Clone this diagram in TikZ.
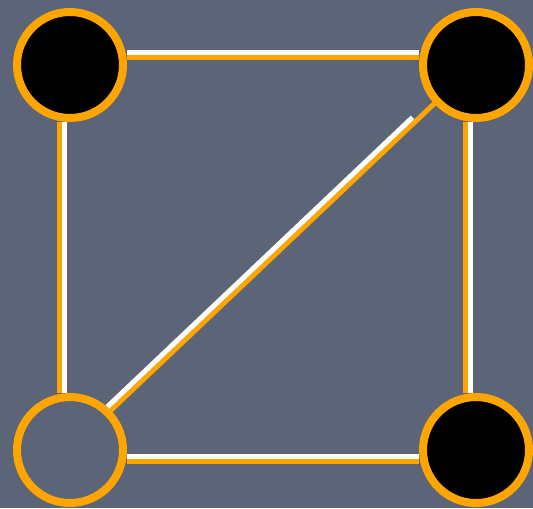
\documentclass[tikz,border=0pt]{standalone}
\usepackage{xcolor}
\usetikzlibrary{positioning}
\definecolor{slate}{RGB}{92,101,119}
\definecolor{amber}{RGB}{255,165,0}

\begin{document}
\begin{tikzpicture}[
    x=0.02cm, y=0.02cm,
    vertex/.style={circle, draw=amber, line width=1.6mm, minimum size=21.2mm, inner sep=0pt, fill=black},
    openvertex/.style={vertex, fill=none},
    rim/.style={draw=amber, line width=1mm},
    wire/.style={draw=white, line width=1mm}
  ]
    \fill[slate] (0,0) rectangle (533,508);
    \useasboundingbox (0,0) rectangle (533,508);

    \node[vertex] (tl) at (70,443) {};
    \node[vertex] (tr) at (476,443) {};
    \node[openvertex] (bl) at (70,58) {};
    \node[vertex] (br) at (476,58) {};

    \draw[rim, transform canvas={yshift=1.6mm}] (tl) -- (tr);
    \draw[wire, transform canvas={yshift=2.6mm}] (tl) -- (tr);
    \draw[rim, transform canvas={xshift=-2.06mm}] (tl) -- (bl);
    \draw[wire, transform canvas={xshift=-1.06mm}] (tl) -- (bl);
    \draw[rim, transform canvas={xshift=-2.1mm}] (tr) -- (br);
    \draw[wire, transform canvas={xshift=-1.1mm}] (tr) -- (br);
    \draw[rim, transform canvas={yshift=-2.2mm}] (bl) -- (br);
    \draw[wire, transform canvas={yshift=-1.2mm}] (bl) -- (br);
    \draw[rim, transform canvas={shift={(-0.1mm,0.1mm)}}] (bl) -- (tr);
    \draw[wire, shorten >=5mm, transform canvas={shift={(-0.8mm,0.8mm)}}] (bl) -- (tr);
  \end{tikzpicture}
\end{document}
